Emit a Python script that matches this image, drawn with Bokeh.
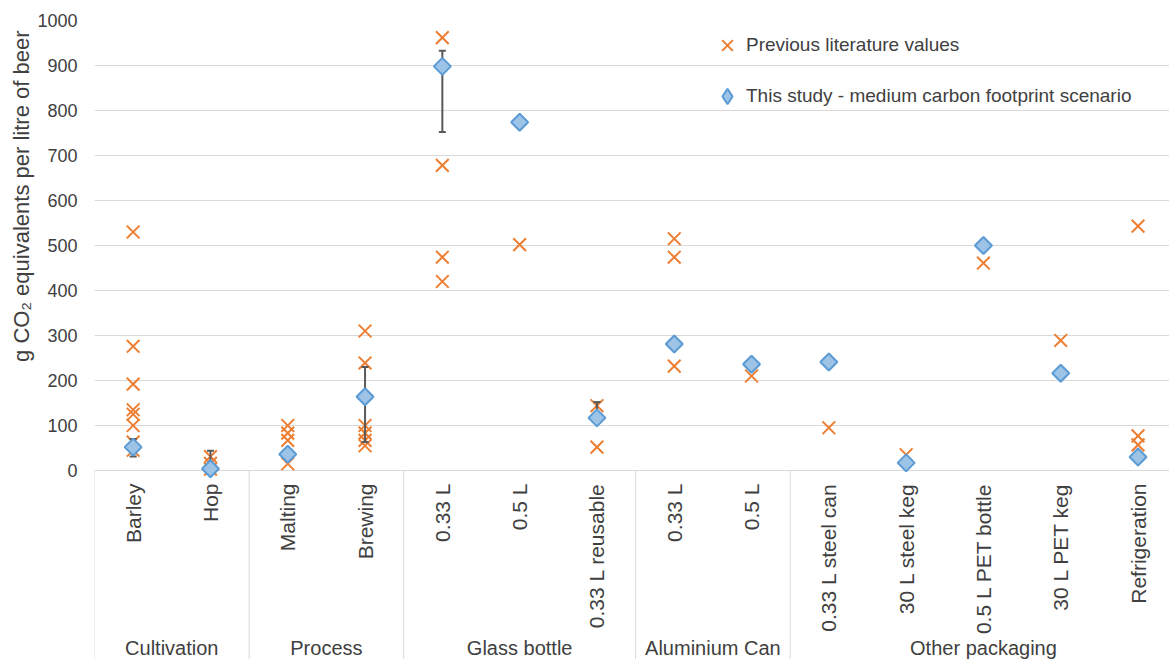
import math
from bokeh.plotting import figure
from bokeh.models import FixedTicker, Legend, LegendItem, Title, ColumnDataSource
from bokeh.core.properties import value
from bokeh.embed import file_html
from bokeh.resources import INLINE

# ---- data ----
categories = ["Barley", "Hop", "Malting", "Brewing", "0.33 L", "0.5 L", "0.33 L reusable",
              "0.33 L", "0.5 L", "0.33 L steel can", "30 L steel keg", "0.5 L PET bottle",
              "30 L PET keg", "Refrigeration"]
groups = ["Cultivation", "Process", "Glass bottle", "Aluminium Can", "Other packaging"]
group_sizes = [2, 2, 3, 2, 5]

literature = [
    [530, 276, 192, 135, 125, 100, 63, 45],   # Barley
    [31, 16, 3],                              # Hop
    [100, 83, 67, 15],                        # Malting
    [310, 239, 100, 83, 67, 55],              # Brewing
    [962, 678, 474, 420],                     # Glass 0.33 L
    [502],                                    # Glass 0.5 L
    [144, 52],                                # Glass 0.33 L reusable
    [515, 474, 232],                          # Can 0.33 L
    [210],                                    # Can 0.5 L
    [95],                                     # steel can
    [35],                                     # steel keg
    [461],                                    # PET bottle
    [289],                                    # PET keg
    [543, 77, 57],                            # Refrigeration
]
study = [52, 4, 36, 164, 898, 774, 117, 281, 236, 241, 17, 500, 216, 30]

err_index = [0, 1, 3, 4, 6]
err_low = [31, 0, 63, 752, 110]
err_high = [70, 44, 230, 933, 152]

y_ticks = [0, 100, 200, 300, 400, 500, 600, 700, 800, 900, 1000]

ORANGE = "#ED7D31"
BLUE_LINE = "#5B9BD5"
BLUE_FILL = "#9DC3E6"
TEXT = "#404040"
GRID = "#D9D9D9"
FONT = "Liberation Sans"

cx = [i + 0.5 for i in range(len(categories))]

lit_x, lit_y = [], []
for i, vals in enumerate(literature):
    for v in vals:
        lit_x.append(cx[i])
        lit_y.append(v)

p = figure(width=1169, height=659, output_backend="svg", toolbar_location=None,
           x_range=(0, 13.907), y_range=(-420, 1000),
           min_border_left=94, min_border_right=0, min_border_top=20, min_border_bottom=0)
p.outline_line_color = None
p.xaxis.visible = False
p.xgrid.visible = False

p.yaxis.ticker = FixedTicker(ticks=y_ticks)
p.ygrid.ticker = FixedTicker(ticks=y_ticks)
p.ygrid.grid_line_color = GRID
p.ygrid.grid_line_width = 1
p.yaxis.axis_line_color = None
p.yaxis.major_tick_line_color = None
p.yaxis.minor_tick_line_color = None
p.yaxis.major_tick_in = 0
p.yaxis.major_tick_out = 0
p.yaxis.major_label_standoff = 17
p.yaxis.major_label_text_font = FONT
p.yaxis.major_label_text_font_size = "18px"
p.yaxis.major_label_text_color = TEXT

# y-axis title (placed in the left panel, top-anchored like the reference)
ytitle = Title(text="g CO\u2082 equivalents per litre of beer", align="right", offset=10,
               vertical_align="middle", text_font=FONT, text_font_size="22px",
               text_font_style="normal", text_color=TEXT, standoff=0)
p.add_layout(ytitle, "left")

# group separators
bounds = [0]
for s in group_sizes:
    bounds.append(bounds[-1] + s)
p.segment(x0=bounds, y0=[0] * len(bounds), x1=bounds, y1=[-420] * len(bounds),
          line_color=GRID, line_width=1)

# category labels
p.text(x=cx, y=[0] * len(cx), text=categories, angle=math.pi / 2,
       text_align="right", text_baseline="middle", y_offset=13,
       text_font=value(FONT), text_font_size="21px", text_color=TEXT)

# group labels
gcx = [(bounds[k] + bounds[k + 1]) / 2 for k in range(len(groups))]
p.text(x=gcx, y=[0] * len(gcx), text=groups, text_align="center",
       text_baseline="middle", y_offset=177,
       text_font=value(FONT), text_font_size="20px", text_color=TEXT)

# literature values
r_lit = p.scatter(lit_x, lit_y, marker="x", size=18, line_color=ORANGE, line_width=2)

# error bars
ex = [cx[i] for i in err_index]
p.segment(x0=ex, y0=err_low, x1=ex, y1=err_high, line_color="#595959", line_width=2)
p.scatter(ex + ex, err_low + err_high, marker="dash", size=7, line_color="#595959", line_width=2)

# this study
study_src = ColumnDataSource(data=dict(x=cx, y=study))
# diamond-shaped twin (small, fully covered by the rotated squares) used as the legend swatch,
# because legend swatches are always drawn unrotated
r_st_leg = p.scatter("x", "y", source=study_src, marker="diamond", size=7,
                     fill_color=BLUE_FILL, line_color=BLUE_LINE, line_width=2)
r_st = p.scatter("x", "y", source=study_src, marker="square", angle=math.pi / 4, size=12,
                 fill_color=BLUE_FILL, line_color=BLUE_LINE, line_width=2)

legend = Legend(items=[LegendItem(label="Previous literature values", renderers=[r_lit]),
                       LegendItem(label="This study - medium carbon footprint scenario",
                                  renderers=[r_st_leg])],
                location=(614, 544), orientation="vertical",
                glyph_width=38, glyph_height=38, spacing=13, padding=0, margin=0,
                label_standoff=0, border_line_color=None, background_fill_alpha=0,
                label_text_font=FONT, label_text_font_size="19px", label_text_color=TEXT)
p.add_layout(legend, "center")

open("out.html", "w").write(file_html(p, INLINE))
